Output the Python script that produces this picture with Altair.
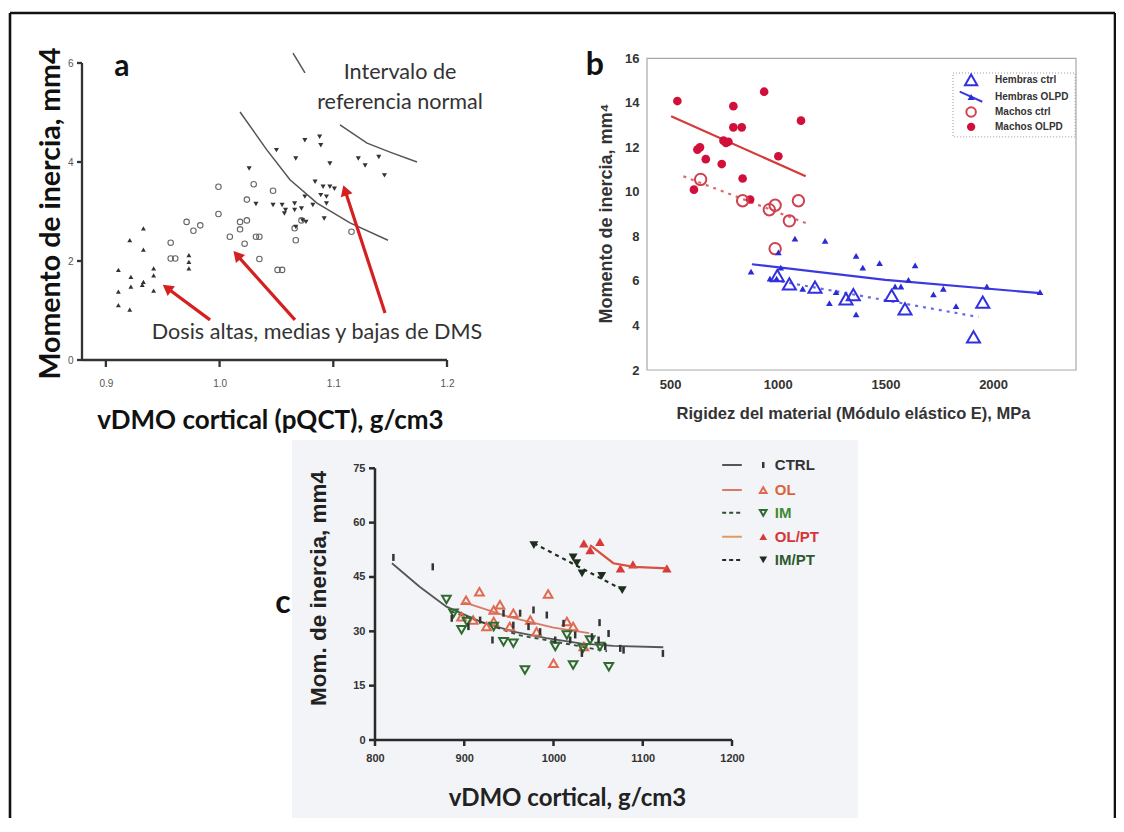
import math
import altair as alt
import pandas as pd

# ---------------- panel a data ----------------
A_UP_X = [0.911, 0.921, 0.933, 0.933, 0.911, 0.922, 0.922, 0.933, 0.932, 0.942, 0.942, 0.942, 0.911, 0.921, 0.973, 0.973, 0.973]
A_UP_Y = [1.82, 2.42, 2.66, 2.23, 1.38, 1.68, 1.48, 1.58, 1.52, 1.85, 1.71, 1.40, 1.11, 1.02, 2.12, 1.98, 1.85]
A_CIRC_X = [0.957, 0.957, 0.961, 0.971, 0.977, 0.983, 0.999, 0.999, 1.009, 1.018, 1.024, 1.018, 1.022, 1.030, 1.024,
            1.032, 1.035, 1.035, 1.047, 1.051, 1.055, 1.066, 1.067, 1.072, 1.116]
A_CIRC_Y = [2.37, 2.05, 2.05, 2.79, 2.61, 2.72, 3.50, 2.95, 2.49, 2.79, 2.82, 2.64, 2.35, 3.55, 3.24,
            2.49, 2.49, 2.04, 3.42, 1.82, 1.82, 2.66, 2.42, 2.82, 2.59]
A_DOWN_X = [1.050, 1.075, 1.088, 1.089, 1.067, 1.097, 1.122, 1.128, 1.140, 1.145, 1.026, 1.032, 1.047, 1.055, 1.058, 1.057,
            1.066, 1.066, 1.075, 1.072, 1.082, 1.084, 1.091, 1.097, 1.101, 1.089, 1.094, 1.094, 1.092, 1.073, 1.076, 1.067]
A_DOWN_Y = [4.24, 4.44, 4.51, 4.34, 4.07, 3.97, 4.07, 3.93, 4.10, 3.73, 3.87, 3.15, 3.13, 3.13, 3.03, 2.96,
            3.16, 3.03, 3.30, 3.06, 3.13, 3.60, 3.50, 3.50, 3.46, 3.33, 3.30, 3.16, 2.86, 2.82, 2.79, 2.69]
A_CURVE_G = [1, 1, 1, 1, 1, 1, 2, 2, 2, 2, 3, 3]
A_CURVE_X = [1.018, 1.0417, 1.0619, 1.0857, 1.1147, 1.1481, 1.1059, 1.1297, 1.1499, 1.1736, 1.0646, 1.0751]
A_CURVE_Y = [5.01, 4.24, 3.64, 3.17, 2.77, 2.42, 4.75, 4.38, 4.20, 4.00, 6.20, 5.80]
A_ARROW_X0 = [0.9916, 1.0663, 1.1455]
A_ARROW_Y0 = [0.81, 0.81, 0.95]
A_ARROW_X1 = [0.9538, 1.0153, 1.1103]
A_ARROW_Y1 = [1.455, 2.12, 3.43]
A_XTICKS = [0.9, 1.0, 1.1, 1.2]
A_YTICKS = [0, 2, 4, 6]
A_NOTES = ["Intervalo de", "referencia normal", "Dosis altas, medias y bajas de DMS"]
A_NOTE_X = [1.1587, 1.1587, 1.0857]
A_NOTE_Y = [5.80, 5.19, 0.545]

# ---------------- panel b data ----------------
B_MO_X = [534, 627, 639, 666, 611, 740, 748, 771, 794, 794, 833, 837, 872, 937, 1003, 1108, 760]
B_MO_Y = [14.08, 11.9, 12.0, 11.47, 10.1, 11.25, 12.3, 12.25, 13.85, 12.9, 12.9, 10.6, 9.66, 14.5, 11.6, 13.2, 12.2]
B_MC_X = [642, 837, 961, 988, 1054, 1096, 988]
B_MC_Y = [10.56, 9.6, 9.2, 9.4, 8.7, 9.6, 7.45]
B_HO_X = [876, 964, 995, 1003, 1014, 1080, 1116, 1220, 1240, 1271, 1364, 1395, 1364, 1473, 1545, 1572, 1607, 1638,
          1723, 1769, 1828, 1971, 2218]
B_HO_Y = [6.42, 6.1, 6.1, 7.28, 6.6, 7.9, 5.65, 7.8, 5.0, 5.5, 7.13, 6.6, 4.5, 6.8, 5.75, 5.75, 6.05, 6.7,
          5.4, 5.65, 4.87, 5.75, 5.5]
B_HC_X = [998, 1054, 1173, 1317, 1351, 1529, 1591, 1952, 1909]
B_HC_Y = [6.24, 5.87, 5.72, 5.2, 5.39, 5.35, 4.75, 5.05, 3.49]
B_MO_LX = [505, 1130]
B_MO_LY = [13.4, 10.7]
B_MC_LX = [562, 1130]
B_MC_LY = [10.7, 8.6]
B_HO_LX = [880, 1500, 2220]
B_HO_LY = [6.75, 6.05, 5.45]
B_HC_LX = [980, 1932]
B_HC_LY = [6.04, 4.38]
B_XTICKS = [500, 1000, 1500, 2000]
B_YTICKS = [2, 4, 6, 8, 10, 12, 14, 16]
B_LEGEND = ["Hembras ctrl", "Hembras OLPD", "Machos ctrl", "Machos OLPD"]

# ---------------- panel c data ----------------
C_CTRL_X = [820.6, 864.7, 1122.6, 1078.5, 1074.8, 1051.6, 1061.7, 886, 931.6, 962.6, 977.6, 992.5, 1011.2, 1018.7,
            1031.8, 1043, 1050.5, 955, 972, 985, 1001.9, 917.8, 944, 904.7, 1024.3, 1058]
C_CTRL_Y = [50.4, 47.8, 23.9, 24.8, 25.3, 32.4, 29.4, 33.6, 27.6, 35.0, 35.9, 34.5, 32.2, 27.6,
            23.9, 28.5, 27.6, 31.7, 31.3, 29.9, 27.6, 33.1, 35.0, 31.3, 29.0, 25.8]
C_OL_X = [917, 902, 994, 1000, 933, 940, 910, 925, 955, 974, 1015, 1022, 1034, 897, 951, 981, 933]
C_OL_Y = [40.9, 38.6, 40.3, 21.2, 35.9, 37.3, 33.1, 31.3, 35.0, 33.1, 32.7, 31.3, 25.8, 34.0, 31.3, 29.9, 32.7]
C_IM_X = [880, 903, 897, 944, 955, 968, 1002, 1022, 1033, 1062, 1052, 1041, 888, 933, 1015]
C_IM_Y = [38.8, 32.7, 30.4, 27.1, 26.7, 19.3, 25.8, 20.7, 25.3, 20.2, 25.8, 27.6, 35.0, 31.3, 29.0]
C_OLPT_X = [1034, 1041, 1052, 1075, 1089, 1127]
C_OLPT_Y = [54.3, 52.4, 54.7, 47.4, 48.5, 47.4]
C_IMPT_X = [978, 1022, 1026, 1032, 1054, 1077]
C_IMPT_Y = [53.8, 50.4, 48.8, 46.0, 45.3, 41.4]
C_CTRL_LX = [819, 850, 880, 918, 955, 992, 1030, 1067, 1123]
C_CTRL_LY = [48.8, 42.3, 36.8, 32.7, 29.9, 28.1, 26.7, 26.0, 25.6]
C_OL_LX = [900, 950, 1000, 1040]
C_OL_LY = [38, 34, 31, 29.5]
C_IM_LX = [885, 960, 1060]
C_IM_LY = [35.5, 29, 24.5]
C_OLPT_LX = [1041, 1067, 1090, 1127]
C_OLPT_LY = [53.8, 48.8, 47.8, 47.4]
C_IMPT_LX = [978, 1078]
C_IMPT_LY = [54.3, 41.4]
C_XTICKS = [800, 900, 1000, 1100, 1200]
C_YTICKS = [0, 15, 30, 45, 60, 75]
C_LEGEND = ["CTRL", "OL", "IM", "OL/PT", "IM/PT"]

# ---------------- layout / style ----------------
W, H = 1106, 805
CAL = "Lato"
ARI = "Liberation Sans"
RED_A = "#d42020"
B_RED = "#d0103a"
B_BLUE = "#2a2ad8"
C_COLORS = ["#333333", "#e06a50", "#2f6b2f", "#d83a3a", "#1e2e1e"]
C_TEXT_COLORS = ["#333333", "#d8643f", "#3f8a35", "#d63535", "#2f5a2f"]
TICK_DOWN = "M0,0L0,1"
TICK_LEFT = "M0,0L-1,0"

A_XDOM, A_YDOM = [0.879, 1.2], [0, 6]
B_XDOM, B_YDOM = [393, 2385], [2, 16]
C_XDOM, C_YDOM = [800, 1200], [0, 75]


def S(dom, rng):
    return alt.Scale(domain=dom, range=rng, nice=False, zero=False)


A_XS = S(A_XDOM, [72, 437])
A_YS = S(A_YDOM, [347, 50])
B_XS = S(B_XDOM, [637, 1066])
B_YS = S(B_YDOM, [357, 45.3])
C_XS = S(C_XDOM, [365, 722])
C_YS = S(C_YDOM, [727, 455.3])


def axis(orient, offset, values, title, tx, ty, **kw):
    d = dict(orient=orient, offset=offset, values=values, title=title, titleX=tx, titleY=ty, grid=False,
             titleAlign="center", titleBaseline="middle", titleAngle=270 if orient == "left" else 0,
             labelFlush=False, labelOverlap=False, domain=False, ticks=False, zindex=1)
    d.update(kw)
    return alt.Axis(**d)


def axis_lines(enc, xdom, ydom, xticks, yticks, color, width, xlen, ylen):
    """Axis lines and outward ticks drawn through the panel's own scales."""
    base_x = alt.Chart(pd.DataFrame({"x": [xdom[0]], "x2": [xdom[1]], "y": [ydom[0]]})).mark_rule(
        color=color, strokeWidth=width, opacity=1).encode(**enc(), x2="x2:Q")
    base_y = alt.Chart(pd.DataFrame({"x": [xdom[0]], "y": [ydom[0]], "y2": [ydom[1]]})).mark_rule(
        color=color, strokeWidth=width, opacity=1).encode(**enc(), y2="y2:Q")
    tx = alt.Chart(pd.DataFrame({"x": xticks, "y": [ydom[0]] * len(xticks)})).mark_point(
        shape=TICK_DOWN, filled=False, stroke=color, strokeWidth=width, size=(2 * xlen) ** 2, opacity=1).encode(**enc())
    ty = alt.Chart(pd.DataFrame({"x": [xdom[0]] * len(yticks), "y": yticks})).mark_point(
        shape=TICK_LEFT, filled=False, stroke=color, strokeWidth=width, size=(2 * ylen) ** 2, opacity=1).encode(**enc())
    return [base_x, base_y, tx, ty]


# ================= panel a =================
ax_a_x = axis("bottom", 348 - H, A_XTICKS, "vDMO cortical (pQCT), g/cm3", 260, 59, format=".1f",
              labelFont=ARI, labelFontSize=10, labelColor="#555", labelPadding=17,
              titleFont=CAL, titleFontSize=26, titleFontWeight="bold", titleColor="#111")
ax_a_y = axis("left", -72, A_YTICKS, "Momento de inercia, mm4", -32, 200,
              labelFont=ARI, labelFontSize=10, labelColor="#555", labelPadding=9,
              titleFont=CAL, titleFontSize=28.5, titleFontWeight="bold", titleColor="#111")


def ea(axes=False, xf="x", yf="y"):
    return dict(x=alt.X(f"{xf}:Q", scale=A_XS, axis=ax_a_x if axes else None),
                y=alt.Y(f"{yf}:Q", scale=A_YS, axis=ax_a_y if axes else None))


a_axes = alt.Chart(pd.DataFrame({"x": [0.9], "y": [0]})).mark_point(opacity=0).encode(**ea(True))
a_lines = axis_lines(ea, A_XDOM, A_YDOM, A_XTICKS, A_YTICKS, "#333", 2.3, 7, 5)
a_circ = alt.Chart(pd.DataFrame({"x": A_CIRC_X, "y": A_CIRC_Y})).mark_point(
    shape="circle", filled=False, stroke="#666", strokeWidth=1.1, size=30, opacity=1).encode(**ea())
a_up = alt.Chart(pd.DataFrame({"x": A_UP_X, "y": A_UP_Y})).mark_point(
    shape="triangle-up", filled=True, color="#333", size=24, opacity=1).encode(**ea())
a_down = alt.Chart(pd.DataFrame({"x": A_DOWN_X, "y": A_DOWN_Y})).mark_point(
    shape="triangle-down", filled=True, color="#333", size=26, opacity=1).encode(**ea())
a_curves = alt.Chart(pd.DataFrame({"x": A_CURVE_X, "y": A_CURVE_Y, "g": A_CURVE_G})).mark_line(
    color="#555", strokeWidth=1.5).encode(**ea(), detail="g:N")

kx = (437 - 72) / (A_XDOM[1] - A_XDOM[0])
ky = (347 - 50) / (A_YDOM[1] - A_YDOM[0])
ang = []
for x0, y0, x1, y1 in zip(A_ARROW_X0, A_ARROW_Y0, A_ARROW_X1, A_ARROW_Y1):
    dx = (x1 - x0) * kx
    dy = (y1 - y0) * ky
    ang.append(math.degrees(math.atan2(dx, dy)) % 360)
arr_df = pd.DataFrame({"x": A_ARROW_X0, "y": A_ARROW_Y0, "x2": A_ARROW_X1, "y2": A_ARROW_Y1, "ang": ang})
a_arrows = alt.Chart(arr_df).mark_rule(color=RED_A, strokeWidth=3.2).encode(
    **ea(), x2="x2:Q", y2="y2:Q")
a_heads = alt.Chart(arr_df).mark_point(shape="triangle-up", filled=True, color=RED_A, size=150, opacity=1).encode(
    **ea(xf="x2", yf="y2"), angle=alt.Angle("ang:Q", scale=None))
a_notes = alt.Chart(pd.DataFrame({"x": A_NOTE_X, "y": A_NOTE_Y, "t": A_NOTES})).mark_text(
    font=CAL, fontSize=21.6, color="#333", align="center", baseline="middle").encode(**ea(), text="t:N")
a_label = alt.Chart(pd.DataFrame({"x": [0.914], "y": [5.92], "t": ["a"]})).mark_text(
    font=CAL, fontSize=30, fontWeight="bold", color="#111", align="center", baseline="middle").encode(**ea(), text="t:N")

PANEL_A = [a_axes, a_circ, a_up, a_down, a_curves, a_arrows, a_heads, a_notes, a_label, *a_lines]

# ================= panel b =================
ax_b_x = axis("bottom", 357 - H, B_XTICKS, "Rigidez del material (Módulo elástico E), MPa", 843, 43, format="d",
              labelFont=ARI, labelFontSize=13, labelFontWeight="bold", labelColor="#333", labelPadding=8,
              titleFont=ARI, titleFontSize=16.5, titleFontWeight="bold", titleColor="#333")
ax_b_y = axis("left", -637, B_YTICKS, "Momento de inercia, mm⁴", -41, 200, format="d",
              labelFont=ARI, labelFontSize=13, labelFontWeight="bold", labelColor="#333", labelPadding=8,
              titleFont=ARI, titleFontSize=18, titleFontWeight="bold", titleColor="#333")


def eb(axes=False, xf="x", yf="y"):
    return dict(x=alt.X(f"{xf}:Q", scale=B_XS, axis=ax_b_x if axes else None),
                y=alt.Y(f"{yf}:Q", scale=B_YS, axis=ax_b_y if axes else None))


b_axes = alt.Chart(pd.DataFrame({"x": [500], "y": [2]})).mark_point(opacity=0).encode(**eb(True))
B_FRAME = pd.DataFrame({"x": [B_XDOM[0]], "x2": [B_XDOM[1]], "y": [B_YDOM[0]], "y2": [B_YDOM[1]]})
b_frame = alt.Chart(B_FRAME).mark_rect(filled=False, stroke="#a8a8a8", strokeWidth=1.2).encode(
    **eb(), x2="x2:Q", y2="y2:Q")


def bline(xs, ys, color, dash=None):
    kw = dict(color=color, strokeWidth=2.2)
    if dash:
        kw["strokeDash"] = dash
    return alt.Chart(pd.DataFrame({"x": xs, "y": ys})).mark_line(**kw).encode(**eb())


b_l1 = bline(B_MO_LX, B_MO_LY, "#d43a3a")
b_l2 = bline(B_MC_LX, B_MC_LY, "#d96a6a", [3, 5])
b_l3 = bline(B_HO_LX, B_HO_LY, "#3a3ae0")
b_l4 = bline(B_HC_LX, B_HC_LY, "#6a6ae8", [3, 5])
b_mo = alt.Chart(pd.DataFrame({"x": B_MO_X, "y": B_MO_Y})).mark_circle(color=B_RED, size=75, opacity=1).encode(**eb())
b_mc = alt.Chart(pd.DataFrame({"x": B_MC_X, "y": B_MC_Y})).mark_point(
    shape="circle", filled=False, stroke="#d04050", strokeWidth=2, size=130, opacity=1).encode(**eb())
b_ho = alt.Chart(pd.DataFrame({"x": B_HO_X, "y": B_HO_Y})).mark_point(
    shape="triangle-up", filled=True, color=B_BLUE, size=45, opacity=1).encode(**eb())
b_hc = alt.Chart(pd.DataFrame({"x": B_HC_X, "y": B_HC_Y})).mark_point(
    shape="triangle-up", filled=False, stroke="#3030e0", strokeWidth=2, size=170, opacity=1).encode(**eb())

# legend of panel b (layout anchors in data units)
BL_Y = [15.03, 14.26, 13.59, 12.92]
BL_SX, BL_TX = 1898, 2009
b_leg_box = alt.Chart(pd.DataFrame({"x": [1814], "x2": [2381], "y": [12.47], "y2": [15.34]})).mark_rect(
    filled=False, stroke="#999", strokeWidth=1, strokeDash=[1, 2]).encode(**eb(), x2="x2:Q", y2="y2:Q")
b_leg_hc = alt.Chart(pd.DataFrame({"x": [BL_SX], "y": [BL_Y[0]]})).mark_point(
    shape="triangle-up", filled=False, stroke="#3030e0", strokeWidth=2, size=150, opacity=1).encode(**eb())
b_leg_hol = alt.Chart(pd.DataFrame({"x": [1845, 1950], "y": [14.5, 14.05]})).mark_line(
    color="#3a3ae0", strokeWidth=2).encode(**eb())
b_leg_ho = alt.Chart(pd.DataFrame({"x": [BL_SX], "y": [BL_Y[1]]})).mark_point(
    shape="triangle-up", filled=True, color=B_BLUE, size=50, opacity=1).encode(**eb())
b_leg_mc = alt.Chart(pd.DataFrame({"x": [BL_SX], "y": [BL_Y[2]]})).mark_point(
    shape="circle", filled=False, stroke="#d04050", strokeWidth=2, size=90, opacity=1).encode(**eb())
b_leg_mo = alt.Chart(pd.DataFrame({"x": [BL_SX], "y": [BL_Y[3]]})).mark_circle(
    color=B_RED, size=70, opacity=1).encode(**eb())
b_leg_txt = alt.Chart(pd.DataFrame({"x": [BL_TX] * 4, "y": BL_Y, "t": B_LEGEND})).mark_text(
    font=ARI, fontSize=10, fontWeight="bold", color="#333", align="left", baseline="middle").encode(**eb(), text="t:N")
b_label = alt.Chart(pd.DataFrame({"x": [151], "y": [15.7], "t": ["b"]})).mark_text(
    font=CAL, fontSize=32, fontWeight="bold", color="#111", align="center", baseline="middle").encode(**eb(), text="t:N")

PANEL_B = [b_axes, b_frame, b_l1, b_l2, b_l3, b_l4, b_mo, b_mc, b_ho, b_hc,
           b_leg_box, b_leg_hol, b_leg_hc, b_leg_ho, b_leg_mc, b_leg_mo, b_leg_txt, b_label]

# ================= panel c =================
ax_c_x = axis("bottom", 727 - H, C_XTICKS, "vDMO cortical, g/cm3", 557, 58, format="d",
              labelFont=ARI, labelFontSize=11, labelFontWeight="bold", labelColor="#333", labelPadding=12,
              titleFont=CAL, titleFontSize=24, titleFontWeight="bold", titleColor="#222")
ax_c_y = axis("left", -365, C_YTICKS, "Mom. de inercia, mm4", -57, 575, format="d",
              labelFont=ARI, labelFontSize=11, labelFontWeight="bold", labelColor="#333", labelPadding=10,
              titleFont=ARI, titleFontSize=22.5, titleFontWeight="bold", titleColor="#222")


def ec(axes=False, xf="x", yf="y"):
    return dict(x=alt.X(f"{xf}:Q", scale=C_XS, axis=ax_c_x if axes else None),
                y=alt.Y(f"{yf}:Q", scale=C_YS, axis=ax_c_y if axes else None))


c_bg = alt.Chart(pd.DataFrame({"x": [707], "x2": [1341], "y": [-25.4], "y2": [82.8]})).mark_rect(
    color="#f3f4f7").encode(**ec(), x2="x2:Q", y2="y2:Q")
c_axes = alt.Chart(pd.DataFrame({"x": [800], "y": [0]})).mark_point(opacity=0).encode(**ec(True))
c_lines = axis_lines(ec, C_XDOM, C_YDOM, C_XTICKS, C_YTICKS, "#2a2a2a", 2.5, 6, 6)


def cline(xs, ys, color, dash=None, w=1.8):
    kw = dict(color=color, strokeWidth=w)
    if dash:
        kw["strokeDash"] = dash
    return alt.Chart(pd.DataFrame({"x": xs, "y": ys})).mark_line(**kw).encode(**ec())


c_ctrl = alt.Chart(pd.DataFrame({"x": C_CTRL_X, "y": C_CTRL_Y})).mark_tick(
    orient="vertical", size=7, thickness=2.5, color=C_COLORS[0], opacity=1).encode(**ec())
c_ol = alt.Chart(pd.DataFrame({"x": C_OL_X, "y": C_OL_Y})).mark_point(
    shape="triangle-up", filled=False, stroke=C_COLORS[1], strokeWidth=2, size=75, opacity=1).encode(**ec())
c_im = alt.Chart(pd.DataFrame({"x": C_IM_X, "y": C_IM_Y})).mark_point(
    shape="triangle-down", filled=False, stroke=C_COLORS[2], strokeWidth=2, size=75, opacity=1).encode(**ec())
c_olpt = alt.Chart(pd.DataFrame({"x": C_OLPT_X, "y": C_OLPT_Y})).mark_point(
    shape="triangle-up", filled=True, color=C_COLORS[3], size=90, opacity=1).encode(**ec())
c_impt = alt.Chart(pd.DataFrame({"x": C_IMPT_X, "y": C_IMPT_Y})).mark_point(
    shape="triangle-down", filled=True, color=C_COLORS[4], size=80, opacity=1).encode(**ec())
c_l_ctrl = cline(C_CTRL_LX, C_CTRL_LY, "#555")
c_l_ol = cline(C_OL_LX, C_OL_LY, "#d97a66")
c_l_im = cline(C_IM_LX, C_IM_LY, "#2f4f2f", [4, 4])
c_l_olpt = cline(C_OLPT_LX, C_OLPT_LY, "#d85040", w=2.2)
c_l_impt = cline(C_IMPT_LX, C_IMPT_LY, "#1e2e1e", [4, 4], w=2.2)

# legend of panel c (layout anchors in data units)
CL_Y = [75.9, 69.0, 62.7, 56.1, 49.7]
CL_X0, CL_X1, CL_SX, CL_TX = 1189, 1211, 1235, 1248
CL_LINE_COLORS = ["#555", "#d97a66", "#2f4f2f", "#d8a060", "#1e2e1e"]
CL_DASH = [[1, 0], [1, 0], [4, 3], [1, 0], [4, 3]]
c_leg_lines = []
for i in range(5):
    c_leg_lines.append(alt.Chart(pd.DataFrame({"x": [CL_X0, CL_X1], "y": [CL_Y[i], CL_Y[i]]})).mark_line(
        color=CL_LINE_COLORS[i], strokeWidth=2, strokeDash=CL_DASH[i]).encode(**ec()))
c_leg_s0 = alt.Chart(pd.DataFrame({"x": [CL_SX], "y": [CL_Y[0]]})).mark_tick(
    orient="vertical", size=6, thickness=2.5, color=C_COLORS[0], opacity=1).encode(**ec())
c_leg_s1 = alt.Chart(pd.DataFrame({"x": [CL_SX], "y": [CL_Y[1]]})).mark_point(
    shape="triangle-up", filled=False, stroke=C_COLORS[1], strokeWidth=2, size=45, opacity=1).encode(**ec())
c_leg_s2 = alt.Chart(pd.DataFrame({"x": [CL_SX], "y": [CL_Y[2]]})).mark_point(
    shape="triangle-down", filled=False, stroke=C_COLORS[2], strokeWidth=2, size=45, opacity=1).encode(**ec())
c_leg_s3 = alt.Chart(pd.DataFrame({"x": [CL_SX], "y": [CL_Y[3]]})).mark_point(
    shape="triangle-up", filled=True, color=C_COLORS[3], size=60, opacity=1).encode(**ec())
c_leg_s4 = alt.Chart(pd.DataFrame({"x": [CL_SX], "y": [CL_Y[4]]})).mark_point(
    shape="triangle-down", filled=True, color=C_COLORS[4], size=60, opacity=1).encode(**ec())
c_leg_txt = alt.Chart(pd.DataFrame({"x": [CL_TX] * 5, "y": CL_Y, "t": C_LEGEND, "c": C_TEXT_COLORS})).mark_text(
    font=ARI, fontSize=15, fontWeight="bold", align="left", baseline="middle").encode(
    **ec(), text="t:N", color=alt.Color("c:N", scale=None))
c_label = alt.Chart(pd.DataFrame({"x": [697], "y": [37.8], "t": ["c"]})).mark_text(
    font=CAL, fontSize=32, fontWeight="bold", color="#111", align="center", baseline="middle").encode(**ec(), text="t:N")

PANEL_C = [c_bg, c_axes, c_l_ctrl, c_l_ol, c_l_im, c_ol, c_im, c_ctrl, c_olpt, c_impt, c_l_olpt, c_l_impt,
           *c_leg_lines, c_leg_s0, c_leg_s1, c_leg_s2, c_leg_s3, c_leg_s4, c_leg_txt, c_label, *c_lines]

# ================= outer frame =================
frame_l = alt.Chart(pd.DataFrame({"k": [0]})).mark_rule(color="#111", strokeWidth=2.6).encode(
    x=alt.value(0), y=alt.value(0), y2=alt.value(H + 20))
frame_t = alt.Chart(pd.DataFrame({"k": [0]})).mark_rule(color="#111", strokeWidth=2.6).encode(
    x=alt.value(0), x2=alt.value(W - 1), y=alt.value(0))
frame_r = alt.Chart(pd.DataFrame({"k": [0]})).mark_rule(color="#111", strokeWidth=2.6).encode(
    x=alt.value(W - 1), y=alt.value(0), y2=alt.value(H + 20))

chart = alt.layer(*PANEL_C, *PANEL_A, *PANEL_B, frame_l, frame_t, frame_r).resolve_scale(
    x="independent", y="independent").properties(
    width=W, height=H,
    autosize=alt.AutoSizeParams(type="none"),
    padding={"left": 2, "top": 5, "right": 0, "bottom": 0},
    background="white",
).configure_view(stroke=None).configure_axis(grid=False)

chart.save("out.html", embed_options={"renderer": "svg", "actions": False})
